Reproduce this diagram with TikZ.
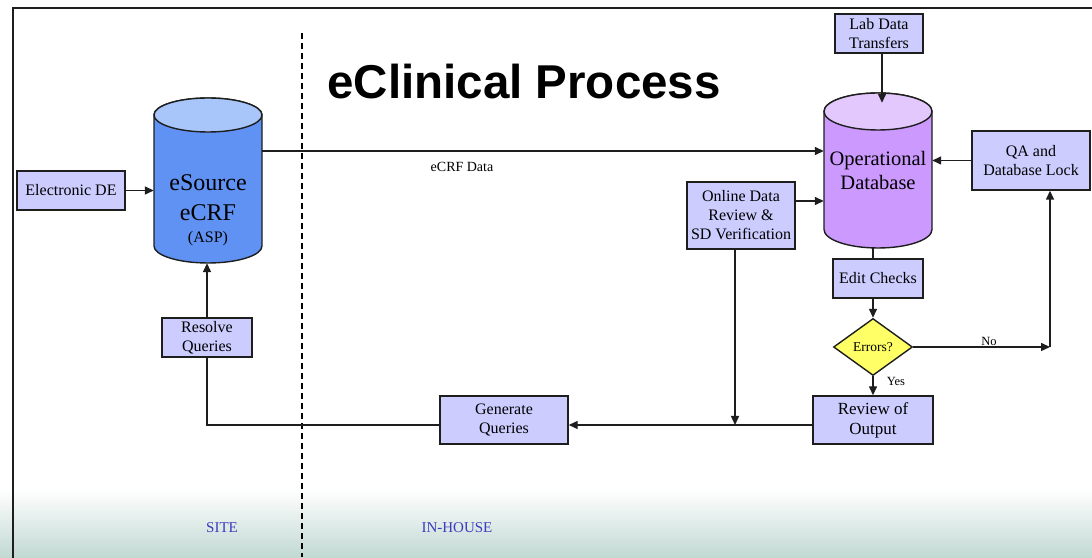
\documentclass[tikz,border=0pt]{standalone}
\usepackage{fontspec}
\setmainfont{Liberation Serif}
\newfontfamily\titlefont{Liberation Sans}
\usetikzlibrary{arrows.meta,shapes.geometric,calc}

\definecolor{boxfill}{HTML}{CCCCFF}
\definecolor{edgecol}{HTML}{1E1E1E}
\definecolor{srcbody}{HTML}{5F92F2}
\definecolor{srctop}{HTML}{A8C6FA}
\definecolor{dbbody}{HTML}{CC99FF}
\definecolor{dbtop}{HTML}{E2C8FC}
\definecolor{decfill}{HTML}{FFFF66}
\definecolor{sidecol}{HTML}{3C3CBE}
\definecolor{floorcol}{HTML}{C2D9D3}

% cylinder: centre x, top-ellipse y, bottom-ellipse y, radii, body colour, lid colour
\newcommand{\drumshape}[7]{%
  \filldraw[fill=#6, draw=edgecol, line width=1.4pt]
    (#1-#4,#2) -- (#1-#4,#3)
    arc[start angle=180, end angle=360, x radius=#4, y radius=#5]
    -- (#1+#4,#2)
    arc[start angle=0, end angle=180, x radius=#4, y radius=#5] -- cycle;
  \filldraw[fill=#7, draw=edgecol, line width=1.4pt]
    (#1,#2) ellipse[x radius=#4, y radius=#5];
}

\tikzset{
  proc/.style={draw=edgecol, fill=boxfill, line width=1.4pt, inner sep=0pt,
    align=center, font=\fontsize{16}{19}\selectfont},
  anchorbox/.style={draw=none, inner sep=0pt},
  decision/.style={diamond, draw=edgecol, fill=decfill, line width=1.4pt,
    inner sep=0pt, minimum width=79, minimum height=57,
    font=\fontsize{13.5}{15}\selectfont},
  arr/.style={line width=1.4pt, draw=edgecol,
    -{Triangle[length=9pt,width=8pt]}},
  conn/.style={line width=1.4pt, draw=edgecol},
  lbl/.style={inner sep=0pt, font=\fontsize{12.5}{14}\selectfont},
  side/.style={inner sep=0pt, text=sidecol, font=\fontsize{15}{17}\selectfont},
}

\begin{document}
\begin{tikzpicture}[x=1pt, y=1pt]
\useasboundingbox (0,0) rectangle (1092,557);

% background and floor shading
\fill[white] (0,0) rectangle (1092,557);
\shade[top color=white, bottom color=floorcol] (0,0) rectangle (1092,68);

% slide frame
\draw[line width=2pt, draw=edgecol] (13,-10) -- (13,549) -- (1110,549);

% site / in-house divider
\draw[line width=1.2pt, dash pattern=on 6pt off 4pt] (302,524) -- (302,0);

% title
\node[inner sep=0pt] (title) at (524,475)
  {\titlefont\bfseries\fontsize{47.5}{52}\selectfont eClinical Process};

% databases
\drumshape{208}{442}{311}{54}{17}{srcbody}{srctop}
\node[anchorbox, minimum width=108, minimum height=165] (esrc) at (208,376.5) {};
\node[inner sep=0pt, font=\fontsize{24}{28}\selectfont] (esrcA) at (208,374) {eSource};
\node[inner sep=0pt, font=\fontsize{24}{28}\selectfont] (esrcB) at (208,344) {eCRF};
\node[inner sep=0pt, font=\fontsize{16}{18}\selectfont] (esrcC) at (208,318) {(ASP)};

\drumshape{878}{445.5}{327.5}{54}{18.5}{dbbody}{dbtop}
\node[anchorbox, minimum width=108, minimum height=155] (opdb) at (878,386.5) {};
\node[inner sep=0pt, align=center, font=\fontsize{20.5}{24}\selectfont] (opdbT) at (878,387)
  {Operational\\Database};

% process boxes
\node[proc, minimum width=108, minimum height=39] (ede) at (71,366.5) {Electronic DE};
\node[proc, minimum width=88, minimum height=39] (lab) at (879,523.5) {Lab Data\\Transfers};
\node[proc, minimum width=118, minimum height=59] (qa) at (1031,396.5) {QA and\\Database Lock};
\node[proc, minimum width=108, minimum height=67] (online) at (741,341.5)
  {Online Data\\Review \&\\SD Verification};
\node[proc, minimum width=90, minimum height=39] (edit) at (878,278.5) {Edit Checks};
\node[decision] (errs) at (873,210) {Errors?};
\node[proc, minimum width=120, minimum height=48, font=\fontsize{17}{20}\selectfont]
  (rev) at (873,137) {Review of\\Output};
\node[proc, minimum width=128, minimum height=48] (gen) at (504,137) {Generate\\Queries};
\node[proc, minimum width=90, minimum height=39] (res) at (207,219.5) {Resolve\\Queries};

% helper points
\coordinate (qline) at ([yshift=-5pt]rev.west);
\coordinate (odrv) at ([xshift=-6pt]online.south);
\coordinate (labout) at ([xshift=3pt]lab.south);
\coordinate (dbin) at ([yshift=-10pt]opdb.north);
\coordinate (crfout) at ([yshift=29.5pt]esrc.east);
\coordinate (odrin) at ([yshift=14.5pt]online.east);
\coordinate (nocorner) at (1050,210);

% connectors
\draw[arr] (ede.east) -- (ede.east -| esrc.west);
\draw[arr] (crfout) -- (crfout -| opdb.west);
\node[inner sep=0pt, font=\fontsize{14}{16}\selectfont] (crflbl) at (462,390) {eCRF Data};
\draw[arr] (labout) -- (labout |- dbin);
\draw[arr] (qa.west) -- (qa.west -| opdb.east);
\draw[arr] (odrin) -- (odrin -| opdb.west);
\draw[conn] (opdb.south -| errs.north) -- (edit.north -| errs.north);
\draw[arr] (edit.south -| errs.north) -- (errs.north);
\draw[arr] (errs.east) -- (nocorner);
\node[lbl] (nolbl) at (989,216) {No};
\draw[arr] (nocorner) -- (nocorner |- qa.south);
\draw[arr] (errs.south) -- (rev.north);
\node[lbl] (yeslbl) at (896,176) {Yes};
\draw[arr] (odrv) -- (odrv |- qline);
\draw[arr] (qline) -- (qline -| gen.east);
\draw[conn] (qline -| gen.west) -- (qline -| res.south) -- (res.south);
\draw[arr] (res.north) -- (res.north |- esrc.south);

% zone labels
\node[side] (sitelbl) at (222,29) {SITE};
\node[side] (houselbl) at (457,29) {IN-HOUSE};
\end{tikzpicture}
\end{document}
